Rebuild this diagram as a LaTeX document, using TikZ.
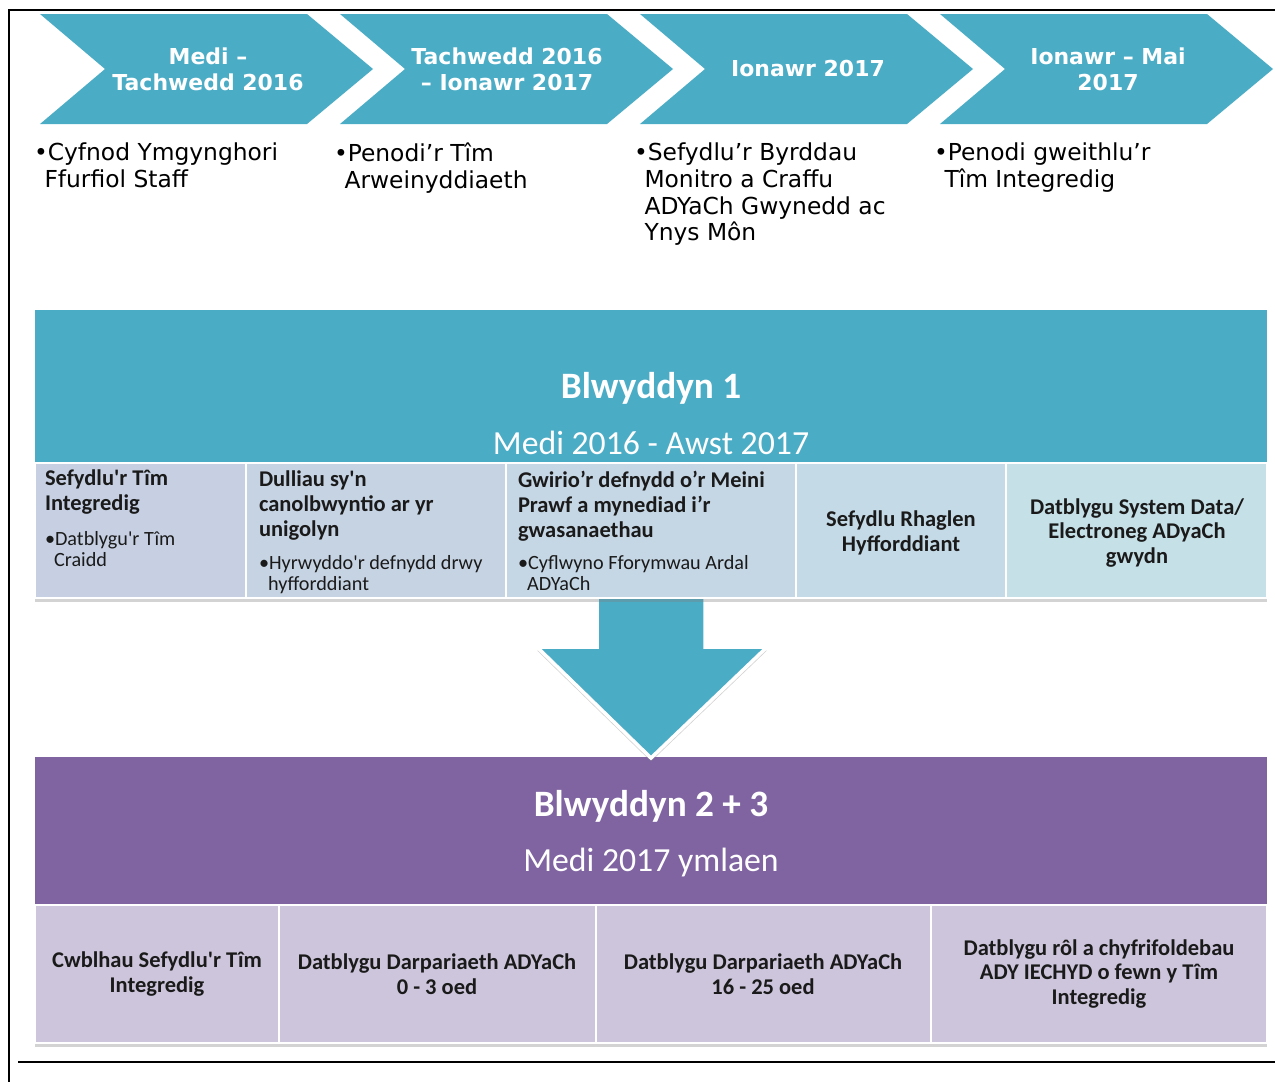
\documentclass[tikz,border=0pt]{standalone}
\usepackage{fontspec}
\setmainfont{Carlito}
\newfontfamily\verdfont{DejaVu Sans}
\usetikzlibrary{shadows}

\definecolor{chevblue}{HTML}{4BACC6}
\definecolor{yrpurple}{HTML}{8064A2}
\definecolor{cellA}{HTML}{C6D0E2}
\definecolor{cellB}{HTML}{C6D3E3}
\definecolor{cellC}{HTML}{C5D6E4}
\definecolor{cellD}{HTML}{C4DAE6}
\definecolor{cellE}{HTML}{C6E0E8}
\definecolor{cellP}{HTML}{CDC5DB}
\definecolor{celltext}{HTML}{1A1A1A}

\begin{document}
\begin{tikzpicture}[x=0.02cm,y=-0.02cm]
    \tikzstyle{every node}+=[inner sep=0pt, outer sep=0pt]
    \tikzstyle{chevlabel}=[text=white, align=center, font=\verdfont\bfseries\fontsize{12.5}{14.7}\selectfont]
    \tikzstyle{steptext}=[anchor=north west, align=left, font=\verdfont\fontsize{13.3}{15.2}\selectfont]
    \tikzstyle{yrtitle}=[text=white, font=\bfseries\fontsize{21.2}{24}\selectfont]
    \tikzstyle{yrsub}=[text=white, font=\fontsize{19.2}{22}\selectfont]
    \tikzstyle{cellhead}=[anchor=north west, align=left, text=celltext, font=\bfseries\fontsize{12.8}{14.2}\selectfont]
    \tikzstyle{cellbul}=[anchor=north west, align=left, text=celltext, font=\fontsize{11.5}{12.5}\selectfont]
    \tikzstyle{cellmid}=[align=center, text=celltext, font=\bfseries\fontsize{12.8}{14.2}\selectfont]
    \tikzstyle{cellbox}=[draw=white, line width=0.8pt]
    \tikzstyle{boxshadow}=[drop shadow={shadow xshift=0pt, shadow yshift=-2pt, opacity=0.35}]
    \useasboundingbox (0,0) rectangle (1275,1082);
    % frame
    \draw [black, line width=1.4pt] (9,1082) -- (9,10) -- (1275,10);
    \draw [black, line width=1.4pt] (18,1062) -- (1275,1062);
    % chevrons
    \fill [chevblue] (40,14) -- (307,14) -- (373,69) -- (307,124) -- (40,124) -- (105,69) -- cycle;
    \fill [chevblue] (340,14) -- (607,14) -- (673,69) -- (607,124) -- (340,124) -- (405,69) -- cycle;
    \fill [chevblue] (640,14) -- (907,14) -- (973,69) -- (907,124) -- (640,124) -- (705,69) -- cycle;
    \fill [chevblue] (940,14) -- (1207,14) -- (1273,69) -- (1207,124) -- (940,124) -- (1005,69) -- cycle;
    \node [chevlabel] (ch1) at (208,69) {Medi –\\Tachwedd 2016};
    \node [chevlabel] (ch2) at (507,69) {Tachwedd 2016\\– Ionawr 2017};
    \node [chevlabel] (ch3) at (808,69) {Ionawr 2017};
    \node [chevlabel] (ch4) at (1108,69) {Ionawr – Mai\\2017};
    \node [steptext] (st1) at (34,143) {•Cyfnod Ymgynghori\\\hspace*{.45em}Ffurfiol Staff};
    \node [steptext] (st2) at (334,143) {•Penodi’r Tîm\\\hspace*{.45em}Arweinyddiaeth};
    \node [steptext] (st3) at (634,143) {•Sefydlu’r Byrddau\\\hspace*{.45em}Monitro a Craffu\\\hspace*{.45em}ADYaCh Gwynedd ac\\\hspace*{.45em}Ynys Môn};
    \node [steptext] (st4) at (934,143) {•Penodi gweithlu’r\\\hspace*{.45em}Tîm Integredig};
    % year 2 + 3
    \fill [yrpurple, boxshadow] (35,757) rectangle (1267,1043);
    \filldraw [cellbox, fill=cellP] (35,905) rectangle (279,1043);
    \filldraw [cellbox, fill=cellP] (279,905) rectangle (596,1043);
    \filldraw [cellbox, fill=cellP] (596,905) rectangle (931,1043);
    \filldraw [cellbox, fill=cellP] (931,905) rectangle (1267,1043);
    \node [yrtitle] (y2t) at (651,806) {Blwyddyn 2 + 3};
    \node [yrsub] (y2s) at (651,862) {Medi 2017 ymlaen};
    \node [cellmid] (p1) at (157,974) {Cwblhau Sefydlu\textquotesingle r Tîm\\Integredig};
    \node [cellmid] (p2) at (437,974) {Datblygu Darpariaeth ADYaCh\\0 - 3 oed};
    \node [cellmid] (p3) at (763,974) {Datblygu Darpariaeth ADYaCh\\16 - 25 oed};
    \node [cellmid] (p4) at (1099,974) {Datblygu rôl a chyfrifoldebau\\ADY IECHYD o fewn y Tîm\\Integredig};
    % down arrow
    \filldraw [fill=chevblue, draw=white, line width=2pt, boxshadow] (597,590) -- (705,590) -- (705,647) -- (767,647) -- (651,758) -- (537,647) -- (597,647) -- cycle;
    % year 1
    \fill [chevblue, boxshadow] (35,310) rectangle (1267,598);
    \filldraw [cellbox, fill=cellA] (35,463) rectangle (246,598);
    \filldraw [cellbox, fill=cellB] (246,463) rectangle (506,598);
    \filldraw [cellbox, fill=cellC] (506,463) rectangle (796,598);
    \filldraw [cellbox, fill=cellD] (796,463) rectangle (1006,598);
    \filldraw [cellbox, fill=cellE] (1006,463) rectangle (1267,598);
    \node [yrtitle] (y1t) at (651,388) {Blwyddyn 1};
    \node [yrsub] (y1s) at (651,443) {Medi 2016 - Awst 2017};
    \node [cellhead] (b1h) at (45,470) {Sefydlu\textquotesingle r Tîm\\Integredig};
    \node [cellbul] (b1b) at (45,531) {•Datblygu\textquotesingle r Tîm\\\hspace*{.45em}Craidd};
    \node [cellhead] (b2h) at (259,471) {Dulliau sy\textquotesingle n\\canolbwyntio ar yr\\unigolyn};
    \node [cellbul] (b2b) at (259,555) {•Hyrwyddo\textquotesingle r defnydd drwy\\\hspace*{.45em}hyfforddiant};
    \node [cellhead] (b3h) at (518,471) {Gwirio’r defnydd o’r Meini\\Prawf a mynediad i’r\\gwasanaethau};
    \node [cellbul] (b3b) at (518,555) {•Cyflwyno Fforymwau Ardal\\\hspace*{.45em}ADYaCh};
    \node [cellmid] (b4) at (901,533) {Sefydlu Rhaglen\\Hyfforddiant};
    \node [cellmid] (b5) at (1137,533) {Datblygu System Data/\\Electroneg ADyaCh\\gwydn};
\end{tikzpicture}
\end{document}
